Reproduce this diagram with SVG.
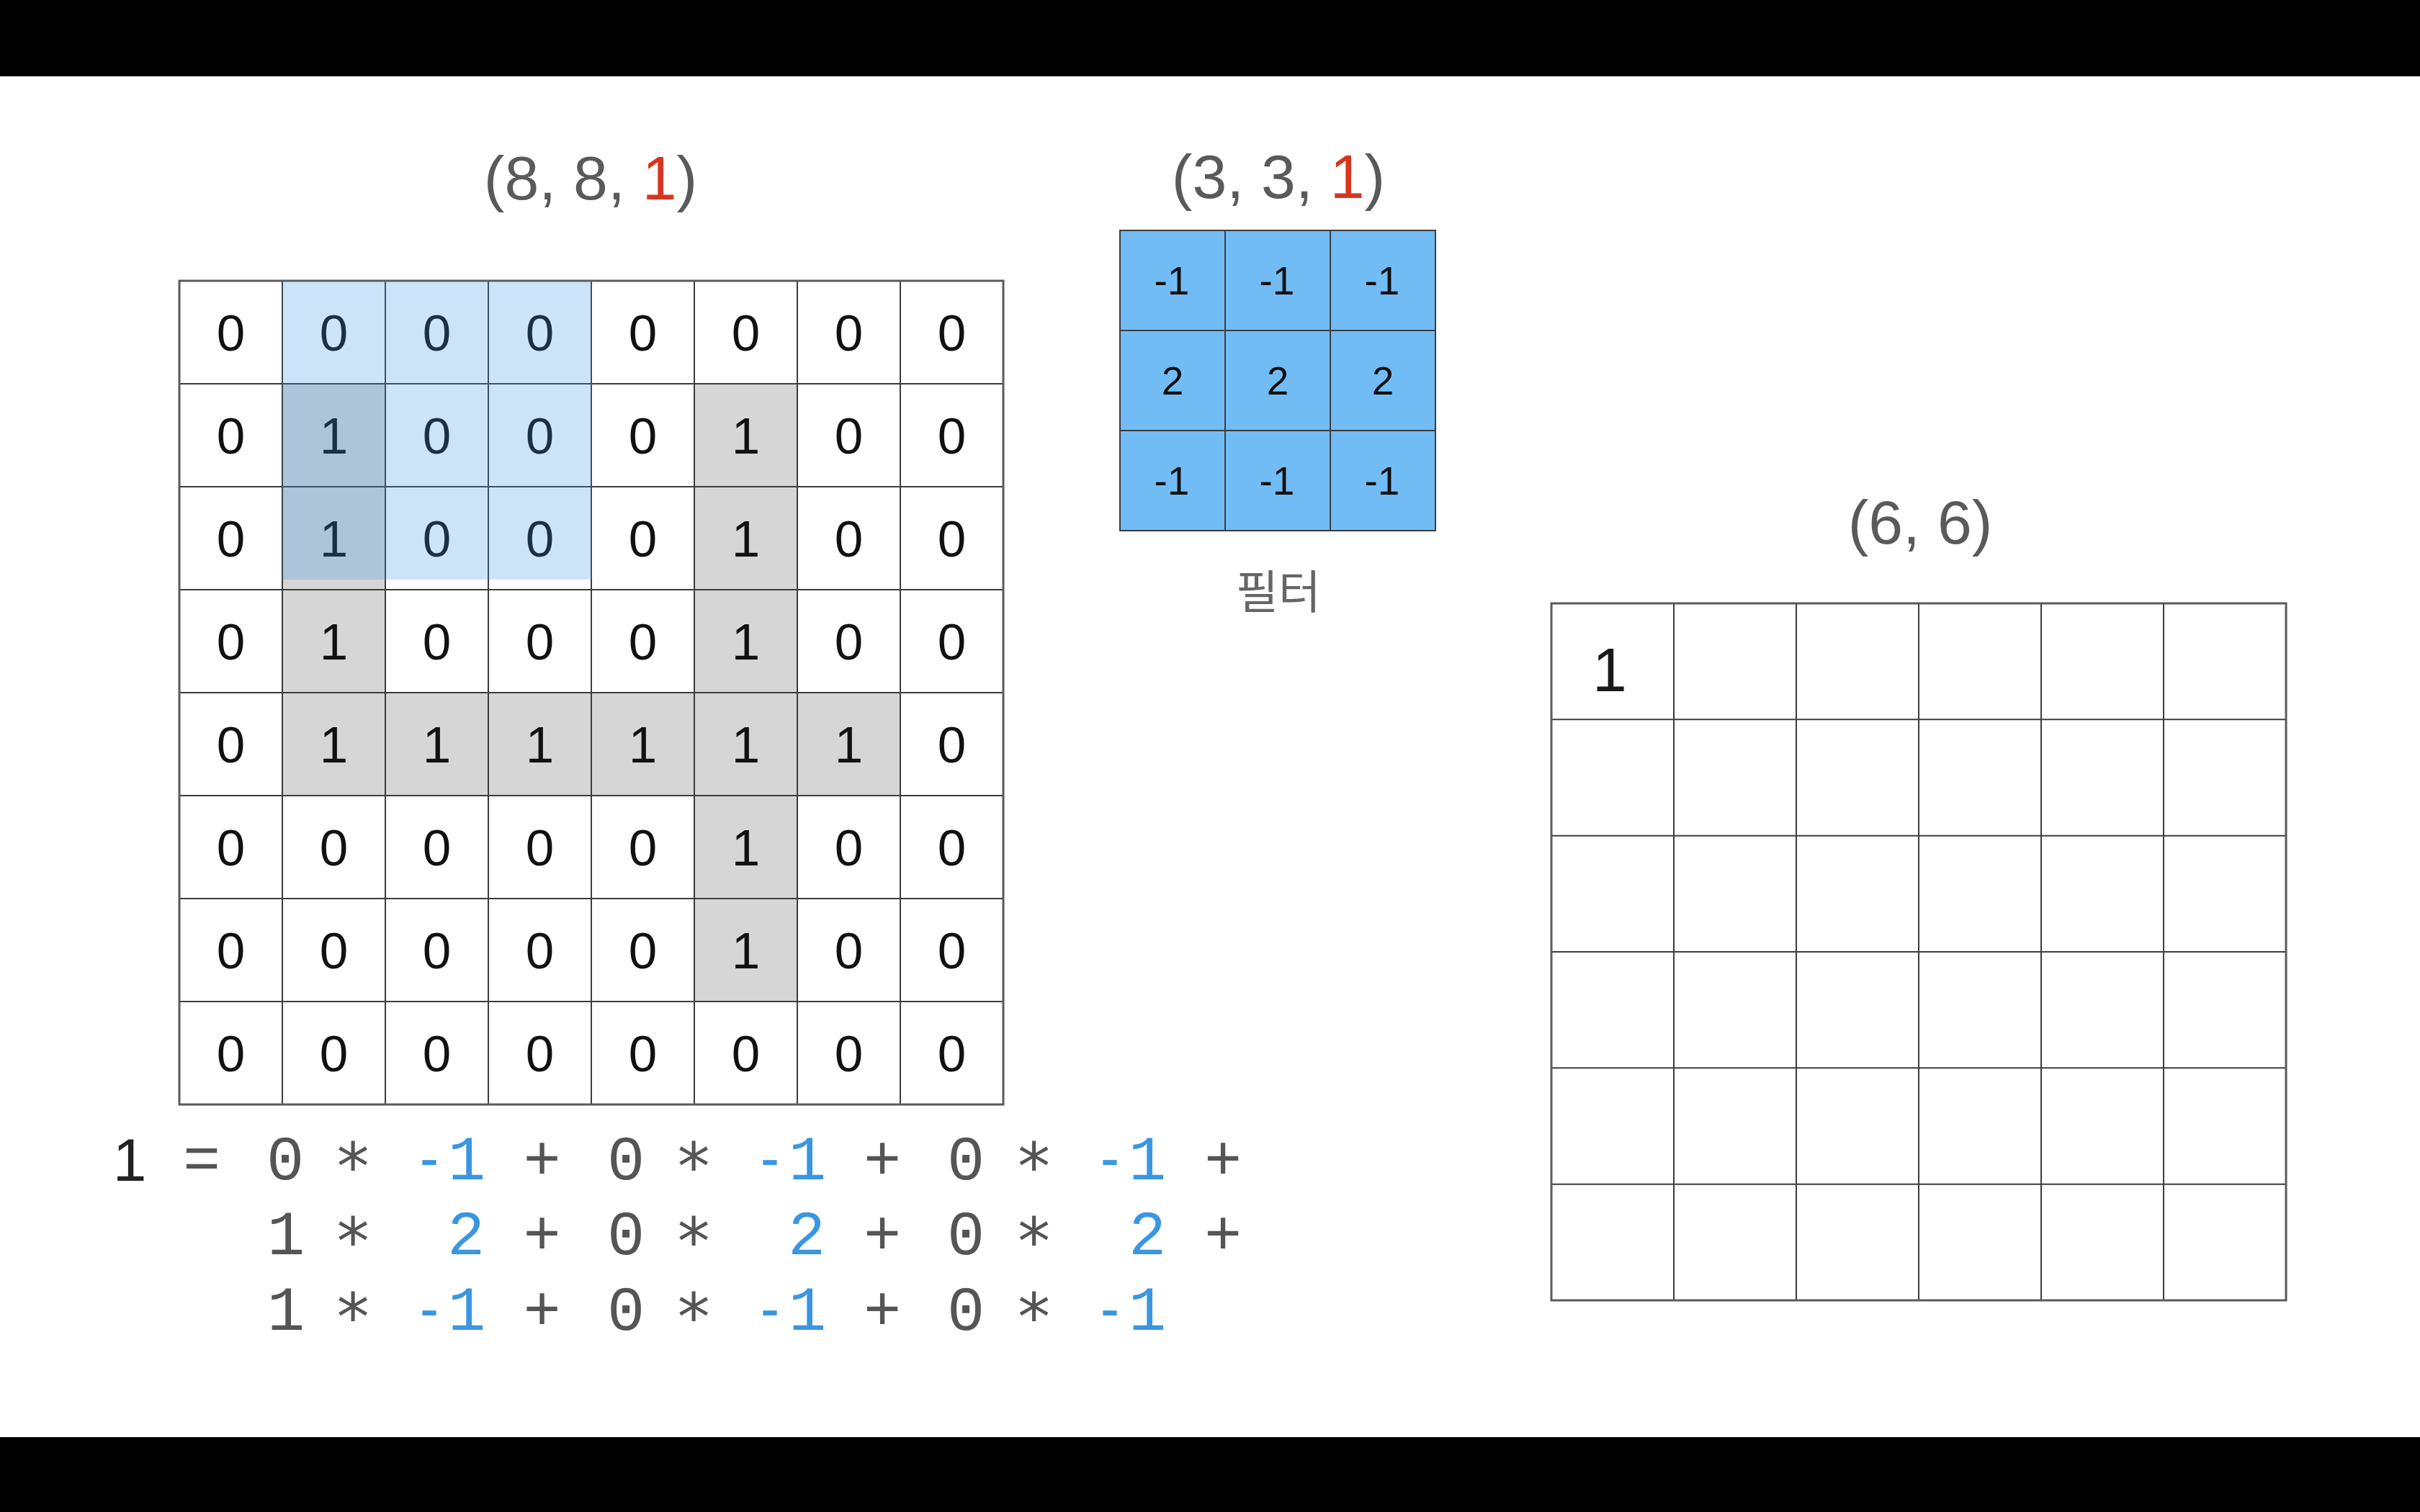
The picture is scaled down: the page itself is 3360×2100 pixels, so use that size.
<svg xmlns="http://www.w3.org/2000/svg" width="3360" height="2100" viewBox="0 0 3360 2100">
<style>
.bar{fill:#000}
.title{font-family:"Liberation Sans",Arial,sans-serif;font-size:86px;fill:#5a5a5a;text-anchor:middle}
.red{fill:#d6361f}
.cell{font-family:"Liberation Sans",Arial,sans-serif;font-size:71px;fill:#111;text-anchor:middle}
.fcell{font-family:"Liberation Sans",Arial,sans-serif;font-size:55px;fill:#111;text-anchor:middle}
.gray{fill:#d6d6d6}
.grid{fill:none;stroke:#3c3c3c;stroke-width:2}
.border{fill:none;stroke:#5a5a5a;stroke-width:3}
.hl{fill:rgb(51,143,227);fill-opacity:0.25}
.flt{fill:#72bcf6}
.lbl{font-family:"Noto Sans CJK KR","Noto Sans",sans-serif;font-size:64px;fill:#666;text-anchor:middle}
.eq{font-family:"Liberation Mono","DejaVu Sans Mono",monospace;font-size:87px;fill:#555;text-anchor:middle}
.ast{font-family:"DejaVu Sans Mono","Liberation Mono",monospace;font-size:90px;fill:#555;text-anchor:middle}
.eqb{fill:#3a96e0}
.dash{fill:#3a96e0;text-anchor:start}
.eqk{font-family:"Liberation Sans",Arial,sans-serif;font-size:84px;fill:#222;text-anchor:middle}
.out{font-family:"Liberation Sans",Arial,sans-serif;font-size:86px;fill:#1a1a1a;text-anchor:middle}
</style>
<rect x="0" y="0" width="3360" height="2100" fill="#fff"/>
<rect class="bar" x="0" y="0" width="3360" height="106"/>
<rect class="bar" x="0" y="1996" width="3360" height="104"/>

<g id="connectors"/>

<g id="input-grid">
<text class="title" x="820" y="277">(8, 8, <tspan class="red">1</tspan>)</text>
<rect class="gray" x="392" y="533" width="143" height="429"/>
<rect class="gray" x="392" y="962" width="858" height="143"/>
<rect class="gray" x="964" y="533" width="143" height="429"/>
<rect class="gray" x="964" y="1105" width="143" height="286"/>
<g class="cell">
<text x="320.5" y="487">0</text><text x="463.5" y="487">0</text><text x="606.5" y="487">0</text><text x="749.5" y="487">0</text><text x="892.5" y="487">0</text><text x="1035.5" y="487">0</text><text x="1178.5" y="487">0</text><text x="1321.5" y="487">0</text>
<text x="320.5" y="630">0</text><text x="463.5" y="630">1</text><text x="606.5" y="630">0</text><text x="749.5" y="630">0</text><text x="892.5" y="630">0</text><text x="1035.5" y="630">1</text><text x="1178.5" y="630">0</text><text x="1321.5" y="630">0</text>
<text x="320.5" y="773">0</text><text x="463.5" y="773">1</text><text x="606.5" y="773">0</text><text x="749.5" y="773">0</text><text x="892.5" y="773">0</text><text x="1035.5" y="773">1</text><text x="1178.5" y="773">0</text><text x="1321.5" y="773">0</text>
<text x="320.5" y="916">0</text><text x="463.5" y="916">1</text><text x="606.5" y="916">0</text><text x="749.5" y="916">0</text><text x="892.5" y="916">0</text><text x="1035.5" y="916">1</text><text x="1178.5" y="916">0</text><text x="1321.5" y="916">0</text>
<text x="320.5" y="1059">0</text><text x="463.5" y="1059">1</text><text x="606.5" y="1059">1</text><text x="749.5" y="1059">1</text><text x="892.5" y="1059">1</text><text x="1035.5" y="1059">1</text><text x="1178.5" y="1059">1</text><text x="1321.5" y="1059">0</text>
<text x="320.5" y="1202">0</text><text x="463.5" y="1202">0</text><text x="606.5" y="1202">0</text><text x="749.5" y="1202">0</text><text x="892.5" y="1202">0</text><text x="1035.5" y="1202">1</text><text x="1178.5" y="1202">0</text><text x="1321.5" y="1202">0</text>
<text x="320.5" y="1345">0</text><text x="463.5" y="1345">0</text><text x="606.5" y="1345">0</text><text x="749.5" y="1345">0</text><text x="892.5" y="1345">0</text><text x="1035.5" y="1345">1</text><text x="1178.5" y="1345">0</text><text x="1321.5" y="1345">0</text>
<text x="320.5" y="1488">0</text><text x="463.5" y="1488">0</text><text x="606.5" y="1488">0</text><text x="749.5" y="1488">0</text><text x="892.5" y="1488">0</text><text x="1035.5" y="1488">0</text><text x="1178.5" y="1488">0</text><text x="1321.5" y="1488">0</text>
</g>
<path class="grid" d="M392 390V1534M535 390V1534M678 390V1534M821 390V1534M964 390V1534M1107 390V1534M1250 390V1534M249 533H1393M249 676H1393M249 819H1393M249 962H1393M249 1105H1393M249 1248H1393M249 1391H1393"/>
<rect class="border" x="249" y="390" width="1144" height="1144"/>
<rect id="window" class="hl" x="392" y="390" width="430" height="415"/>
</g>

<g id="filter">
<text class="title" x="1775" y="275">(3, 3, <tspan class="red">1</tspan>)</text>
<rect class="flt" x="1555" y="320" width="438" height="417"/>
<g class="fcell">
<text x="1627" y="409">-1</text><text x="1773" y="409">-1</text><text x="1919" y="409">-1</text>
<text x="1628" y="548">2</text><text x="1774" y="548">2</text><text x="1920" y="548">2</text>
<text x="1627" y="687">-1</text><text x="1773" y="687">-1</text><text x="1919" y="687">-1</text>
</g>
<path class="grid" d="M1701 320V737M1847 320V737M1555 459H1993M1555 598H1993"/>
<rect class="grid" x="1555" y="320" width="438" height="417"/>
<text class="lbl" x="1775" y="845">필터</text>
</g>

<g id="output-grid">
<text class="title" x="2666" y="755">(6, 6)</text>
<text class="out" x="2235" y="960">1</text>
<path class="grid" d="M2324 838V1806M2494 838V1806M2664 838V1806M2834 838V1806M3004 838V1806M2154 999.3H3174M2154 1160.7H3174M2154 1322H3174M2154 1483.3H3174M2154 1644.7H3174"/>
<rect class="border" x="2154" y="838" width="1020" height="968"/>
</g>

<g id="equation">
<text class="eqk" x="180" y="1640">1</text>
<g class="eq">
<text x="280" y="1638">=</text>
<text x="396" y="1638">0</text><text class="ast" x="490" y="1652">*</text><text class="dash" x="575" y="1638"><tspan textLength="42" lengthAdjust="spacingAndGlyphs">-</tspan><tspan x="622">1</tspan></text>
<text x="752.5" y="1638">+</text><text x="869" y="1638">0</text><text class="ast" x="963" y="1652">*</text><text class="dash" x="1048" y="1638"><tspan textLength="42" lengthAdjust="spacingAndGlyphs">-</tspan><tspan x="1095">1</tspan></text>
<text x="1225" y="1638">+</text><text x="1341" y="1638">0</text><text class="ast" x="1435.5" y="1652">*</text><text class="dash" x="1520" y="1638"><tspan textLength="42" lengthAdjust="spacingAndGlyphs">-</tspan><tspan x="1567">1</tspan></text>
<text x="1698" y="1638">+</text>

<text x="397" y="1742">1</text><text class="ast" x="490" y="1756">*</text><text class="eqb" x="647" y="1742">2</text>
<text x="752.5" y="1742">+</text><text x="869" y="1742">0</text><text class="ast" x="963" y="1756">*</text><text class="eqb" x="1120" y="1742">2</text>
<text x="1225" y="1742">+</text><text x="1341" y="1742">0</text><text class="ast" x="1435.5" y="1756">*</text><text class="eqb" x="1593" y="1742">2</text>
<text x="1698" y="1742">+</text>

<text x="397" y="1847">1</text><text class="ast" x="490" y="1861">*</text><text class="dash" x="575" y="1847"><tspan textLength="42" lengthAdjust="spacingAndGlyphs">-</tspan><tspan x="622">1</tspan></text>
<text x="752.5" y="1847">+</text><text x="869" y="1847">0</text><text class="ast" x="963" y="1861">*</text><text class="dash" x="1048" y="1847"><tspan textLength="42" lengthAdjust="spacingAndGlyphs">-</tspan><tspan x="1095">1</tspan></text>
<text x="1225" y="1847">+</text><text x="1341" y="1847">0</text><text class="ast" x="1435.5" y="1861">*</text><text class="dash" x="1520" y="1847"><tspan textLength="42" lengthAdjust="spacingAndGlyphs">-</tspan><tspan x="1567">1</tspan></text>
</g>
</g>
</svg>
